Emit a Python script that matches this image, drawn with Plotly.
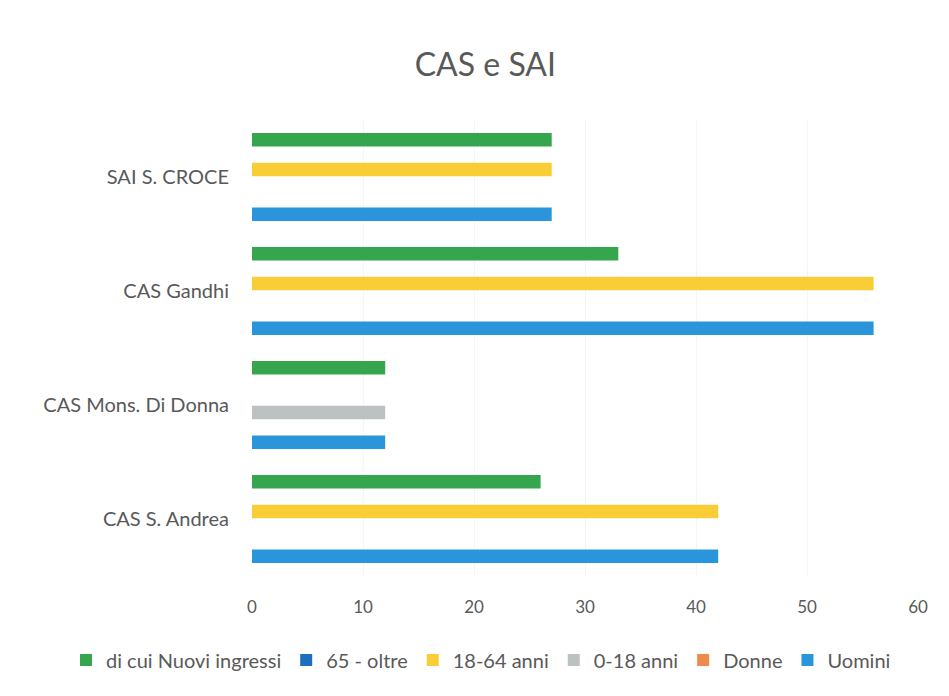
import plotly.graph_objects as go

categories = ["CAS S. Andrea", "CAS Mons. Di Donna", "CAS Gandhi", "SAI S. CROCE"]
series_names = ["Uomini", "Donne", "0-18 anni", "18-64 anni", "65 - oltre", "di cui Nuovi ingressi"]
uomini = [42, 12, 56, 27]
donne = [0, 0, 0, 0]
anni_0_18 = [0, 12, 0, 0]
anni_18_64 = [42, 0, 56, 27]
oltre_65 = [0, 0, 0, 0]
nuovi_ingressi = [26, 12, 33, 27]
x_ticks = [0, 10, 20, 30, 40, 50, 60]

values = [uomini, donne, anni_0_18, anni_18_64, oltre_65, nuovi_ingressi]
colors = ["#2A95DA", "#EE8A4A", "#BCC2C2", "#F8CD35", "#1C6EBE", "#35A54E"]

font_family = "Lato, Open Sans, sans-serif"

fig = go.Figure()
for name, vals, col in zip(series_names, values, colors):
    fig.add_trace(go.Bar(
        y=categories, x=vals, name=name, orientation="h",
        marker=dict(color=col, line=dict(width=0)),
    ))

fig.update_layout(
    width=949, height=696,
    barmode="group", bargap=0.214, bargroupgap=0.1,
    paper_bgcolor="white", plot_bgcolor="white",
    margin=dict(l=244, r=39, t=112, b=128, autoexpand=False),
    title=dict(text="CAS e SAI", x=0.503, xanchor="center", y=1 - 57 / 696, yref="container",
               yanchor="middle",
               font=dict(family=font_family, size=32, color="#595959")),
    font=dict(family=font_family, color="#595959"),
    xaxis=dict(range=[0, 60], tickvals=x_ticks, showgrid=True, gridcolor="#F5F5F5",
               zeroline=False, showline=False, ticks="", automargin=False,
               tickfont=dict(size=17, color="#595959"), ticklabelstandoff=19),
    yaxis=dict(categoryorder="array", categoryarray=categories, showgrid=False,
               zeroline=False, showline=False, ticks="", automargin=False,
               tickfont=dict(size=20, color="#595959"), ticklabelstandoff=22),
    legend=dict(orientation="h", traceorder="reversed", x=(58 - 244) / 666, xanchor="left",
                xref="paper", y=-0.184, yanchor="middle", yref="paper",
                font=dict(size=20, color="#595959"), itemwidth=30,
                tracegroupgap=0),
    showlegend=True,
)

fig.write_html("out.html")
